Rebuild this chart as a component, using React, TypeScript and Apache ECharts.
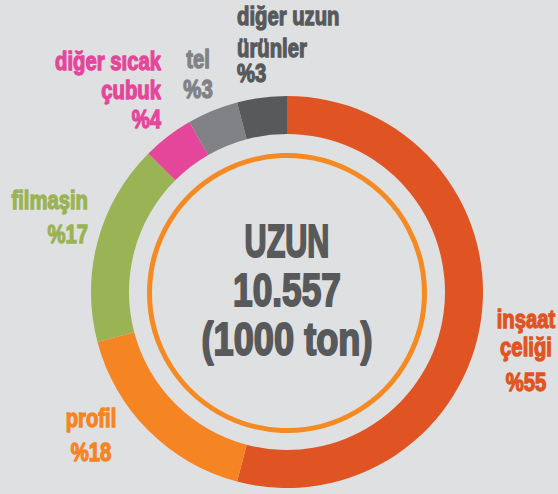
import React, { useEffect, useRef } from "react";
import * as echarts from "echarts";

// ---- data ----
const categories = [
  "inşaat çeliği",
  "profil",
  "filmaşin",
  "diğer sıcak çubuk",
  "tel",
  "diğer uzun ürünler",
];
// slice sizes as drawn (measured from the arc angles)
const sliceShares = [54.1, 16.8, 16.6, 4.2, 4.2, 4.1];
// percentages printed in the labels
const labelPercents = [55, 18, 17, 4, 3, 3];
const labelLines = [
  ["inşaat", "çeliği"],
  ["profil"],
  ["filmaşin"],
  ["diğer sıcak", "çubuk"],
  ["tel"],
  ["diğer uzun", "ürünler"],
];
const centerLines = ["UZUN", "10.557", "(1000 ton)"];

// ---- styling / layout ----
const colors = ["#e05423", "#f58423", "#9ab354", "#e4469a", "#808285", "#58595b"];
const BG = "#dfe0e1";
const CENTER_GRAY = "#58595b";
const FONT = '"Liberation Sans", Arial, sans-serif';
const CX = 287;
const CY = 292;
const LABEL_SIZE = 26;
const LABEL_SCALE = 0.78;
const labelLayout = [
  { x: 526, align: "center", baselines: [328, 356, 391] },
  { x: 91, align: "center", baselines: [427, 461] },
  { x: 88, align: "right", baselines: [209, 243] },
  { x: 161, align: "right", baselines: [70, 99, 128] },
  { x: 198, align: "center", baselines: [68, 98] },
  { x: 237, align: "left", baselines: [25, 57, 82] },
];
const CENTER_SIZE = 47;
const centerLayout = [
  { baseline: 257, scaleX: 0.65 },
  { baseline: 306, scaleX: 0.75 },
  { baseline: 355, scaleX: 0.77 },
];

function App() {
  const ref = useRef<HTMLDivElement>(null);
  useEffect(() => {
    document.body.style.margin = "0";
    const chart = echarts.init(ref.current!, undefined, { renderer: "svg" });

    const graphics: any[] = [
      {
        type: "circle",
        silent: true,
        shape: { cx: CX, cy: CY + 1, r: 137.5 },
        style: { fill: "none", stroke: "#f58a23", lineWidth: 5 },
      },
    ];
    categories.forEach((_, i) => {
      const lines = [...labelLines[i], "%" + labelPercents[i]];
      const lay = labelLayout[i];
      lines.forEach((t, j) => {
        graphics.push({
          type: "text",
          silent: true,
          x: lay.x,
          y: lay.baselines[j] - 0.35 * LABEL_SIZE,
          scaleX: LABEL_SCALE,
          style: {
            text: t,
            fill: colors[i],
            stroke: colors[i],
            lineWidth: 1.3,
            fontFamily: FONT,
            fontWeight: "bold",
            fontSize: LABEL_SIZE,
            textAlign: lay.align,
            textVerticalAlign: "middle",
          },
        });
      });
    });
    centerLines.forEach((t, j) => {
      graphics.push({
        type: "text",
        silent: true,
        x: CX,
        y: centerLayout[j].baseline - 0.35 * CENTER_SIZE,
        scaleX: centerLayout[j].scaleX,
        style: {
          text: t,
          fill: CENTER_GRAY,
          stroke: CENTER_GRAY,
          lineWidth: 2,
          fontFamily: FONT,
          fontWeight: "bold",
          fontSize: CENTER_SIZE,
          textAlign: "center",
          textVerticalAlign: "middle",
        },
      });
    });

    chart.setOption({
      animation: false,
      backgroundColor: BG,
      color: colors,
      series: [
        {
          type: "pie",
          center: [CX, CY],
          radius: [158, 196],
          startAngle: 90,
          clockwise: true,
          silent: true,
          label: { show: false },
          labelLine: { show: false },
          itemStyle: { borderWidth: 0 },
          data: categories.map((name, i) => ({ name, value: sliceShares[i] })),
        },
      ],
      graphic: graphics,
    });
    return () => chart.dispose();
  }, []);
  return (
    <div
      ref={ref}
      style={{ position: "absolute", left: 0, top: 0, width: 558, height: 494 }}
    />
  );
}

export default App;
